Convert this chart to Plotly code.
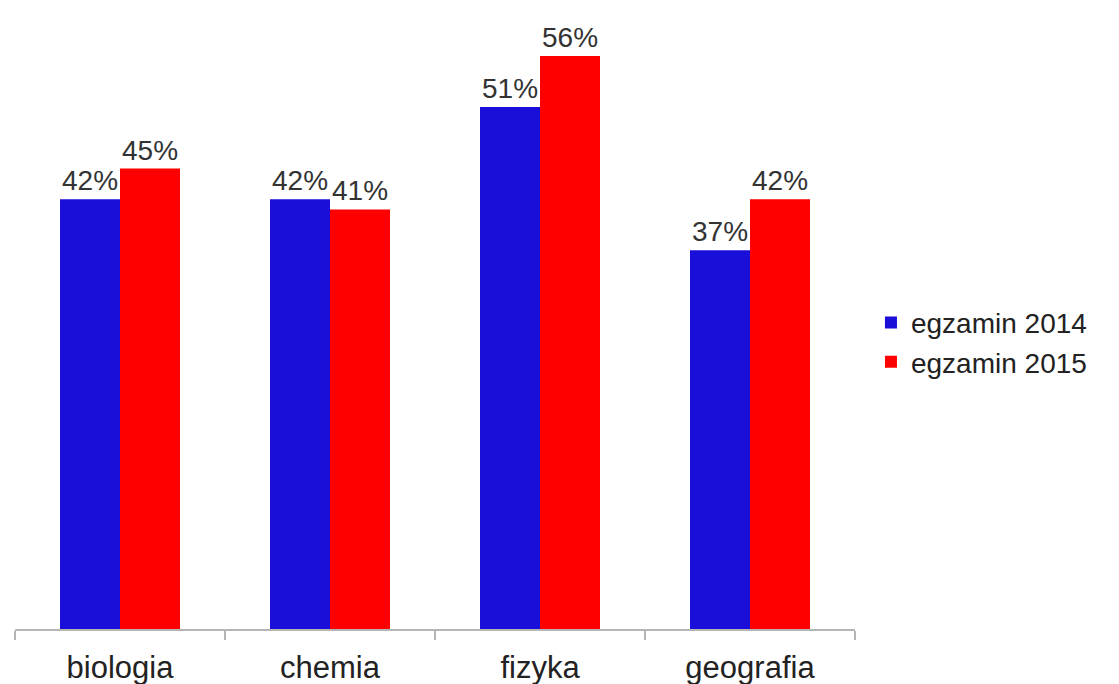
import plotly.graph_objects as go

categories = ["biologia", "chemia", "fizyka", "geografia"]
series_names = ["egzamin 2014", "egzamin 2015"]
values_2014 = [42, 42, 51, 37]
values_2015 = [45, 41, 56, 42]
colors = ["#1a0fd8", "#ff0000"]

fig = go.Figure()
for name, vals, col in zip(series_names, [values_2014, values_2015], colors):
    fig.add_trace(go.Bar(
        x=categories, y=vals, name=name,
        marker=dict(color=col, line=dict(width=0)),
        text=[f"{v}%" for v in vals],
        textposition="outside",
        textfont=dict(family="Liberation Sans, Arial", size=28, color="#333333"),
        constraintext="none",
        cliponaxis=False,
    ))

fig.update_layout(
    width=1119, height=684,
    margin=dict(l=7, r=272, t=7, b=63),
    paper_bgcolor="white", plot_bgcolor="white",
    barmode="group", bargap=0.4286, bargroupgap=0,
    font=dict(family="Liberation Sans, Arial", color="#222222"),
    showlegend=True,
    legend=dict(
        x=1.019, y=0.467, xanchor="left", yanchor="middle",
        font=dict(size=28, color="#222222"),
        bgcolor="rgba(0,0,0,0)",
    ),
)
fig.update_xaxes(
    showline=True, linecolor="#b5b5b5", linewidth=1.5,
    ticks="outside", tickson="boundaries", ticklen=9, tickcolor="#b5b5b5", tickwidth=1.5,
    tickfont=dict(size=31, color="#222222"),
    ticklabelstandoff=10,
    range=[-0.5, 3.5], showgrid=False,
)
fig.update_yaxes(range=[0, 60], visible=False, showgrid=False, zeroline=False)

fig.write_html("out.html")
